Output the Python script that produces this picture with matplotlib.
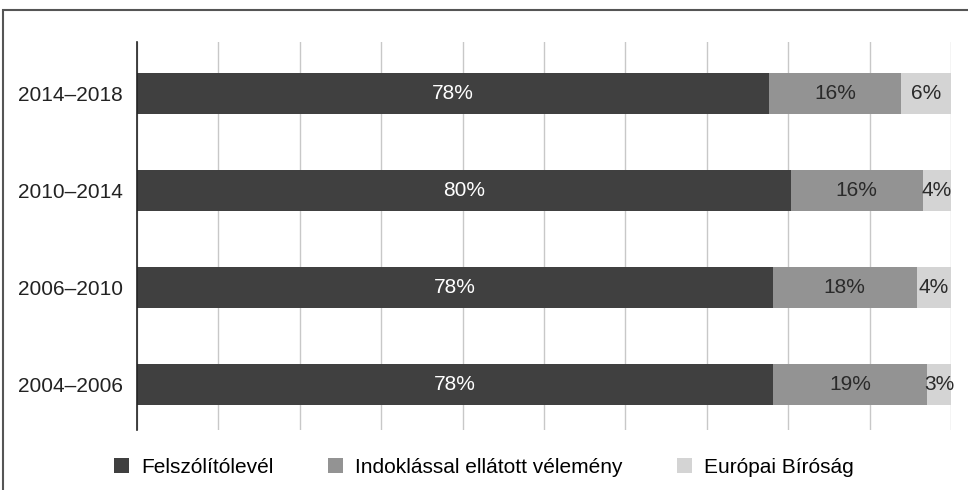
import matplotlib.pyplot as plt
from matplotlib.patches import Patch, Rectangle

plt.rcParams['font.family'] = ['Liberation Sans', 'DejaVu Sans']

# periods, bottom to top
periods = ["2004–2006", "2006–2010", "2010–2014", "2014–2018"]
# shares (%)
felszolito = [78.1, 78.1, 80.3, 77.6]
indoklasos = [19.0, 17.7, 16.2, 16.3]
birosag = [2.9, 4.2, 3.5, 6.1]
# printed labels
lab_felsz = ["78%", "78%", "80%", "78%"]
lab_indok = ["19%", "18%", "16%", "16%"]
lab_bir = ["3%", "4%", "4%", "6%"]

series_names = ["Felszólítólevél", "Indoklással ellátott vélemény", "Európai Bíróság"]
colors = ["#404040", "#939393", "#d4d4d4"]
text_colors = ["white", "#2a2a2a", "#2a2a2a"]
font_size = 15

fig = plt.figure(figsize=(9.68, 4.9), dpi=100)
ax = fig.add_axes([137 / 968, 1 - 430 / 490, (951 - 137) / 968, 388 / 490])

y = list(range(len(periods)))
left = [0] * len(periods)
for vals, labs, col, tcol in zip([felszolito, indoklasos, birosag],
                                 [lab_felsz, lab_indok, lab_bir], colors, text_colors):
    bars = ax.barh(y, vals, left=left, height=0.42, color=col, zorder=3)
    for b, lab in zip(bars, labs):
        ax.text(b.get_x() + b.get_width() / 2, b.get_y() + b.get_height() / 2, lab,
                ha='center', va='center', color=tcol, fontsize=font_size, zorder=4)
    left = [l + v for l, v in zip(left, vals)]

ax.set_xlim(0, 100)
ax.set_ylim(-0.47, 3.53)
ax.set_xticks(range(0, 101, 10))
ax.set_xticklabels([])
ax.set_yticks(y)
ax.set_yticklabels(periods, fontsize=font_size, color="#222222")
ax.tick_params(axis='both', length=0, pad=10)
ax.grid(axis='x', color="#c8c8c8", linewidth=1, zorder=0)
for s in ['top', 'right', 'bottom']:
    ax.spines[s].set_visible(False)
ax.spines['left'].set_color("#222222")
ax.spines['left'].set_linewidth(1.2)
ax.spines['left'].set_zorder(5)

handles = [Patch(facecolor=c, edgecolor='none') for c in colors]
fig.legend(handles, series_names, loc='center', bbox_to_anchor=(0.5, 1 - 467 / 490),
           ncol=3, frameon=False, fontsize=font_size, handlelength=0.72, handleheight=0.72,
           handletextpad=0.6, columnspacing=2.6)

# outer frame, cut off at right and bottom like in the source
fig.patches.append(Rectangle((3 / 968, -0.1), 1.2, 1 - 10 / 490 + 0.1, transform=fig.transFigure,
                             fill=False, edgecolor="#555555", linewidth=1.5))

fig.savefig("out.png", dpi=100)
